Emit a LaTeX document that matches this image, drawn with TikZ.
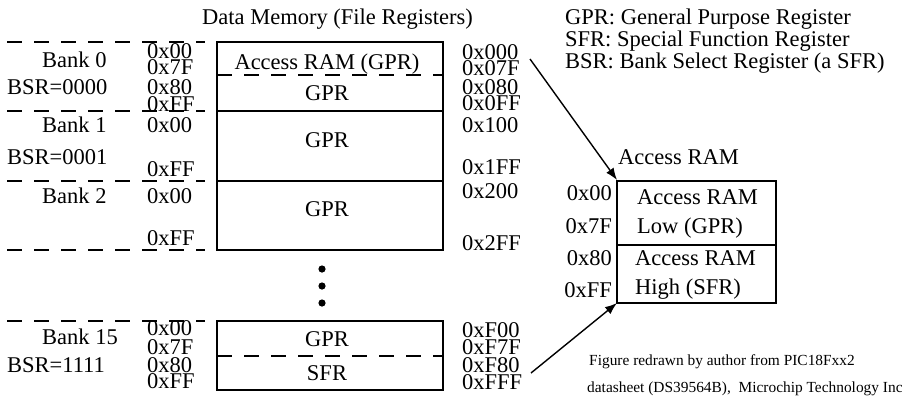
\documentclass[tikz,border=0pt]{standalone}
\usepackage{fontspec}
\setmainfont{Liberation Serif}
\usetikzlibrary{arrows.meta}
\tikzset{
	txt/.style={inner sep=0pt,font=\fontsize{22.5}{27}\selectfont},
	lt/.style={txt,anchor=base west},
	ct/.style={txt,anchor=base},
	rt/.style={txt,anchor=base east},
	note/.style={inner sep=0pt,anchor=base west,font=\fontsize{15.4}{18}\selectfont},
	bankline/.style={line width=1.6pt,dash pattern=on 15pt off 12pt},
	membox/.style={line width=1.8pt},
}
\begin{document}
\begin{tikzpicture}[>=latex,x=1pt,y=-1pt]
	\useasboundingbox (0,0) rectangle (902,402);
	% title and legend
	\node[lt] (title) at (202,24) {Data Memory (File Registers)};
	\node[lt] (gprnote) at (565,24) {GPR: General Purpose Register};
	\node[lt] (sfrnote) at (565,46.5) {SFR: Special Function Register};
	\node[lt] (bsrnote) at (565,68.5) {BSR: Bank Select Register (a SFR)};
	% bank separators
	\draw[bankline] (7,42) -- (205,42);
	\draw[bankline] (7,111) -- (205,111);
	\draw[bankline] (7,181) -- (205,181);
	\draw[bankline] (7,250) -- (205,250);
	\draw[bankline] (7,321) -- (205,321);
	% banks 0 to 2
	\draw[membox] (217,42) rectangle (443,250);
	\draw[membox] (217,111) -- (443,111);
	\draw[membox] (217,181) -- (443,181);
	\draw[bankline] (217,75) -- (443,75);
	% bank 15
	\draw[membox] (217,321) rectangle (443,390);
	\draw[bankline] (217,356) -- (443,356);
	% dots
	\fill (322,269) circle (3.6);
	\fill (322,286) circle (3.6);
	\fill (322,303) circle (3.6);
	% left labels
	\node[lt] (bank0) at (42,67.5) {Bank 0};
	\node[lt] (bsr0) at (7,94.5) {BSR=0000};
	\node[lt] (bank1) at (42,132.5) {Bank 1};
	\node[lt] (bsr1) at (7,164.5) {BSR=0001};
	\node[lt] (bank2) at (42,203.5) {Bank 2};
	\node[lt] (bank15) at (42,344.5) {Bank 15};
	\node[lt] (bsr15) at (7,372.5) {BSR=1111};
	% bank offsets
	\node[lt] (ofsA) at (147,58.5) {0x00};
	\node[lt] (ofsB) at (147,74.5) {0x7F};
	\node[lt] (ofsC) at (147,94.5) {0x80};
	\node[lt] (ofsD) at (147,111.5) {0xFF};
	\node[lt] (ofsE) at (147,132.5) {0x00};
	\node[lt] (ofsF) at (147,176.5) {0xFF};
	\node[lt] (ofsG) at (147,203.5) {0x00};
	\node[lt] (ofsH) at (147,245.5) {0xFF};
	\node[lt] (ofsI) at (147,335.5) {0x00};
	\node[lt] (ofsJ) at (147,354.5) {0x7F};
	\node[lt] (ofsK) at (147,372.5) {0x80};
	\node[lt] (ofsL) at (147,388.5) {0xFF};
	% box contents
	\node[ct] (accgpr) at (327,69.5) {Access RAM (GPR)};
	\node[ct] (gprA) at (327,100.5) {GPR};
	\node[ct] (gprB) at (327,147.5) {GPR};
	\node[ct] (gprC) at (327,216.5) {GPR};
	\node[ct] (gprD) at (327,346.5) {GPR};
	\node[ct] (sfrD) at (327,380.5) {SFR};
	% full addresses
	\node[lt] (adrA) at (462,59.5) {0x000};
	\node[lt] (adrB) at (462,75.5) {0x07F};
	\node[lt] (adrC) at (462,94.5) {0x080};
	\node[lt] (adrD) at (462,110.5) {0x0FF};
	\node[lt] (adrE) at (462,132.5) {0x100};
	\node[lt] (adrF) at (462,174.5) {0x1FF};
	\node[lt] (adrG) at (462,198.5) {0x200};
	\node[lt] (adrH) at (462,250.5) {0x2FF};
	\node[lt] (adrI) at (462,337.5) {0xF00};
	\node[lt] (adrJ) at (462,354.5) {0xF7F};
	\node[lt] (adrK) at (462,372.5) {0xF80};
	\node[lt] (adrL) at (462,389.5) {0xFFF};
	% access RAM
	\node[lt] (acctitle) at (618,164.5) {Access RAM};
	\draw[membox] (617,181) rectangle (776,303);
	\draw[membox] (617,245) -- (776,245);
	\coordinate (acctop) at (617,180);
	\coordinate (accbot) at (617,303);
	\node[lt] (acclowA) at (637,204.5) {Access RAM};
	\node[lt] (acclowB) at (637,233.5) {Low (GPR)};
	\node[lt] (acchighA) at (635,265.5) {Access RAM};
	\node[lt] (acchighB) at (635,294.5) {High (SFR)};
	\node[rt] (accA) at (612,200.5) {0x00};
	\node[rt] (accB) at (612,233.5) {0x7F};
	\node[rt] (accC) at (612,265.5) {0x80};
	\node[rt] (accD) at (612,297.5) {0xFF};
	% arrows
	\coordinate (fromlow) at (530,59);
	\coordinate (fromhigh) at (531,373);
	\draw[line width=1.4pt,-{Latex[length=12pt,width=9pt]}] (fromlow) -- (acctop);
	\draw[line width=1.4pt,-{Latex[length=12pt,width=9pt]}] (fromhigh) -- (accbot);
	% credit
	\node[note] (creditA) at (589,365) {Figure redrawn by author from PIC18Fxx2};
	\node[note] (creditB) at (587,392) {datasheet (DS39564B),\ \ Microchip Technology Inc.};
\end{tikzpicture}
\end{document}
